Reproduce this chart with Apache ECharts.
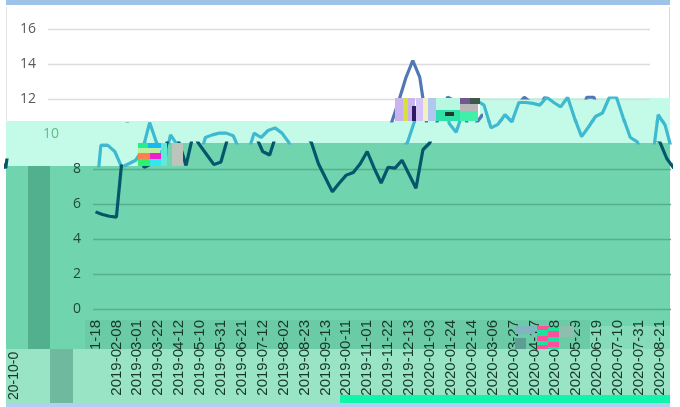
<!DOCTYPE html>
<html>
<head>
<meta charset="utf-8">
<style>
  html, body { margin: 0; padding: 0; background: #fff; }
  #chart { width: 680px; height: 407px; filter: blur(0.4px); }
</style>
</head>
<body>
<div id="chart"></div>
<script src="https://cdn.jsdelivr.net/npm/echarts@6/dist/echarts.min.js"></script>
<script>
// weekly values
const values = [
  5.55, 5.4, 5.3, 5.25, 9.35, 9.35, 9.0, 8.1, 8.3, 8.5,
  9.1, 10.65, 9.5, 8.2, 9.95, 9.35, 8.8, 8.25, 8.4, 9.8,
  9.95, 10.05, 10.05, 9.9, 9.0, 8.8, 10.05, 9.8, 10.2, 10.35,
  10.05, 9.5, 8.3, 7.5, 6.7, 7.2, 7.65, 7.8, 8.3, 9.0,
  8.05, 7.2, 8.1, 8.05, 8.5, 7.7, 6.9, 9.1, 9.5, 10.7,
  11.9, 13.2, 14.2, 13.25, 10.6, 10.1, 11.3, 12.1, 11.9, 11.65,
  10.35, 10.55, 11.1, 10.7, 11.8, 11.8, 11.75, 11.65, 12.1, 11.8,
  11.55, 12.1, 10.9, 9.85, 10.4, 11.0, 11.2, 12.1, 12.1, 10.9,
  9.8, 9.55, 8.6, 8.05, 11.1, 10.5, 9.0
];
// the date labels are torn in two: upper halves and lower halves are one column apart
const dateTails = ["1-18", "2-08", "3-01", "3-22", "4-12", "5-10", "5-31", "6-21", "7-12", "8-02",
  "8-23", "9-13", "0-11", "1-01", "1-22", "2-13", "1-03", "1-24", "2-14", "3-06",
  "3-27", "4-17", "5-08", "5-29", "6-19", "7-10", "7-31", "8-21"];
const dateHeads = ["", "2019-0", "2019-0", "2019-0", "2019-0", "2019-0", "2019-0", "2019-0", "2019-0", "2019-0",
  "2019-0", "2019-0", "2019-0", "2019-1", "2019-1", "2019-1", "2020-0", "2020-0", "2020-0", "2020-0",
  "2020-0", "2020-0", "2020-0", "2020-0", "2020-0", "2020-0", "2020-0", "2020-0"];

const W = 680, H = 407;
const step = 20.9 / 3;
// value <-> pixel for the shared vertical scale
const yOf0 = 309, pxPerUnit = 17.5;
const valueAt = y => (yOf0 - y) / pxPerUnit;

const blue = "#4f78b4", cyan = "#3fb9cf", dark = "#04566b";
// x of the first point in each torn band
const topBase = 50.5, midBase = 73, lowBase = 95.5;

// each visible piece of the line: [x0, y0, x1, y1, base x, colour]
const slices = [
  [48, 29, 480, 121, topBase, blue],
  [480, 29, 650, 98, topBase, blue],
  [480, 98, 670, 121, midBase, cyan],
  [6, 121, 670, 143, midBase, cyan],
  [6, 143, 165, 166, midBase, cyan],
  [93, 166, 165, 309, lowBase, dark],
  [165, 143, 670, 309, lowBase, dark],
  [6, 160, 9, 175, lowBase - 668, dark]
];

const grids = [], xAxes = [], yAxes = [], series = [];
slices.forEach(s => {
  const g = grids.length;
  grids.push({ left: s[0], top: s[1], width: s[2] - s[0], height: s[3] - s[1] });
  xAxes.push({ type: "value", gridIndex: g, show: false, scale: true,
    min: (s[0] - s[4]) / step, max: (s[2] - s[4]) / step });
  yAxes.push({ type: "value", gridIndex: g, show: false, scale: true,
    min: valueAt(s[3]), max: valueAt(s[1]) });
  series.push({ type: "line", xAxisIndex: g, yAxisIndex: g, silent: true, showSymbol: false,
    lineStyle: { color: s[5], width: 3.2 }, data: values.map((v, i) => [i, v]) });
});

// y axes: top part, the lone 10, lower part
function frame(left, right, labelColor, lineColors, margin, showLabel) {
  const g = grids.length;
  grids.push({ left: left, top: 29, width: right - left, height: 280 });
  xAxes.push({ type: "value", gridIndex: g, show: false, min: 0, max: 1 });
  yAxes.push({ type: "value", gridIndex: g, min: 0, max: 16, interval: 2,
    axisLine: { show: false }, axisTick: { show: false },
    axisLabel: { color: labelColor, fontSize: 14, margin: margin, fontFamily: "Open Sans",
      formatter: v => showLabel(v) ? String(v) : "" },
    splitLine: { lineStyle: { color: lineColors, width: 1.4 } } });
}
const none = "rgba(0,0,0,0)", soft = "#dcdcdc", deep = "#55b08f";
frame(48, 650, "#5a5a5a", [none, none, none, none, none, none, soft, soft, soft], 12, v => v >= 12);
frame(70, 650, "#63bb8a", [none], 11, v => v === 10);
frame(93, 671, "#1e4a3c", [deep, deep, deep, deep, deep, none, none, none, none], 12, v => v <= 8);

// date labels
const labelGrid = grids.length;
grids.push({ left: lowBase, top: 29, width: 27 * 20.9, height: 280 });
yAxes.push({ type: "value", gridIndex: labelGrid, show: false, min: 0, max: 1 });
const dateAxis = (data, offset, margin) => ({
  type: "category", gridIndex: labelGrid, position: "bottom", boundaryGap: false, data: data, offset: offset,
  axisLine: { show: false }, axisTick: { show: false }, splitLine: { show: false },
  axisLabel: { interval: 0, rotate: 90, color: "#17372c", fontSize: 15, margin: margin,
    fontFamily: "Liberation Sans", hideOverlap: false, showMinLabel: true, showMaxLabel: true }
});
xAxes.push(dateAxis(dateTails, 0, 11));
xAxes.push(dateAxis(dateHeads, 40, 0));

// the damaged image: colour bands under the line, noise blocks over it
const box = (x, y, w, h, fill, z) => ({ type: "rect", z: z === undefined ? -10 : z, silent: true,
  shape: { x: x, y: y, width: w, height: h }, style: { fill: fill } });
const graphic = [
  box(6, 0, 664, 5, "#9dc3e8"),
  box(6, 403, 664, 4, "#b5cdf1"),
  box(6, 7, 1, 114, "#e4e4e4"),
  box(669, 7, 1, 91, "#d8d8d8"),
  box(6, 121, 664, 45, "#c4fbe8"),
  box(480, 98, 190, 23, "#c4fbe8"),
  box(165, 143, 505, 23, "#70d4ae"),
  box(6, 166, 664, 183, "#70d4ae"),
  box(85, 320, 505, 29, "#6ccba7"),
  box(590, 326, 80, 23, "#86dcba"),
  box(28, 166, 22, 183, "#52b08e"),
  box(6, 349, 664, 46, "#98e4c5"),
  box(6, 395, 334, 8, "#98e4c5"),
  box(50, 349, 23, 54, "#6fb99e"),
  box(340, 395, 330, 8, "#0ff5ab"),
  // rainbow block
  box(138, 143, 22, 5, "#22f08a", 50),
  box(148, 143, 13, 5, "#18b8f0", 50),
  box(138, 148, 22, 5, "#b8f0a0", 50),
  box(138, 153, 12, 6, "#ff7f50", 50),
  box(150, 153, 11, 6, "#f020d0", 50),
  box(138, 159, 12, 7, "#30f070", 50),
  box(150, 159, 11, 7, "#30e8f0", 50),
  box(161, 143, 6, 23, "#60e8d8", 50),
  box(172, 143, 11, 23, "#bcc4bc", 50),
  // block under the peak
  box(395, 98, 20, 23, "#c9b4f0", 50),
  box(403, 98, 5, 23, "#d8e040", 50),
  box(412, 106, 4, 15, "#301a60", 50),
  box(416, 98, 7, 23, "#d4c4f8", 50),
  box(423, 98, 12, 23, "#f0f0c0", 50),
  box(428, 98, 8, 23, "#b0c8f0", 50),
  box(436, 98, 24, 12, "#b8f8e0", 50),
  box(436, 110, 24, 11, "#2fe0a8", 50),
  box(445, 112, 9, 4, "#203828", 50),
  box(460, 98, 10, 6, "#705890", 50),
  box(460, 104, 18, 7, "#b8b8b8", 50),
  box(460, 111, 18, 10, "#40f0a8", 50),
  box(470, 98, 10, 6, "#40584c", 50),
  // pink block in the dates
  box(515, 326, 20, 8, "#7fb4c0", 50),
  box(515, 338, 11, 11, "#5f9c94", 50),
  box(537, 326, 12, 23, "#17e59a", 50),
  box(537, 326, 12, 4, "#ff4f9e", 50),
  box(537, 336, 12, 5, "#ff4f9e", 50),
  box(537, 345, 12, 4, "#ff4f9e", 50),
  box(548, 328, 11, 21, "#17e59a", 50),
  box(548, 331, 11, 6, "#ff4f9e", 50),
  box(548, 342, 11, 5, "#ff4f9e", 50),
  box(559, 326, 15, 11, "#8dbfae", 50),
  // the label wrapped round to the left edge
  { type: "text", z: 1, silent: true, x: 21, y: 400, rotation: Math.PI / 2,
    style: { text: "20-10-0", fill: "#17372c", font: "14px 'Liberation Sans'", align: "left", verticalAlign: "bottom" } }
];

const myChart = echarts.init(document.getElementById("chart"), null, { renderer: "canvas", width: W, height: H });
myChart.setOption({
  animation: false,
  backgroundColor: "#fff",
  tooltip: { show: false },
  grid: grids,
  xAxis: xAxes,
  yAxis: yAxes,
  series: series,
  graphic: graphic
});
</script>
</body>
</html>
